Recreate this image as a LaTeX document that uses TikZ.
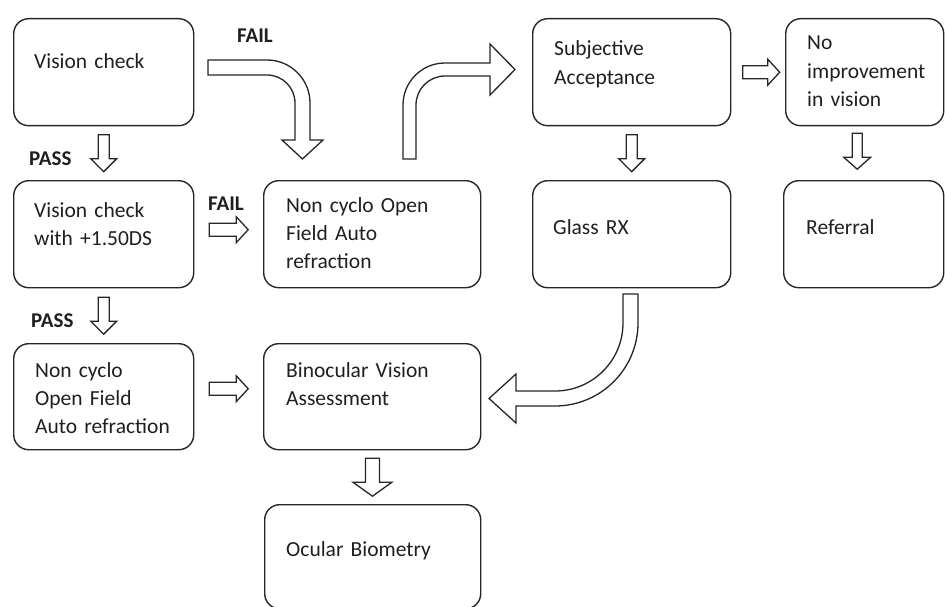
\documentclass[tikz,border=0pt]{standalone}
\usepackage{fontspec}
\setmainfont{Carlito}
\usetikzlibrary{calc}
\tikzset{
  box/.style={draw=black!85, line width=1.4pt, rounded corners=15pt, anchor=north west, inner sep=0pt},
  txt/.style={anchor=base west, inner sep=0pt, align=left, text width=190pt, text=black!88, font=\fontsize{21.5}{28.3}\selectfont},
  lbl/.style={anchor=base west, inner sep=0pt, text=black!88, font=\fontsize{21}{26}\selectfont\bfseries},
  barrow/.style={draw=black!85, line width=1.3pt, fill=white, line join=miter},
}
\newcommand\blockarrow[6]{\draw[barrow, shift={#1}, rotate=#2] ({-#3/2},{-#4/2}) -- ({#3/2-#6},{-#4/2}) -- ({#3/2-#6},{-#5/2}) -- ({#3/2},0) -- ({#3/2-#6},{#5/2}) -- ({#3/2-#6},{#4/2}) -- ({-#3/2},{#4/2}) -- cycle;}
\begin{document}
\begin{tikzpicture}[x=1pt,y=1pt]
\useasboundingbox (0,0) rectangle (945,-607);
% boxes
\node[box, minimum width=180pt, minimum height=107pt] (b1) at (13,-18) {};
\node[box, minimum width=180pt, minimum height=107pt] (b2) at (13,-180) {};
\node[box, minimum width=180pt, minimum height=106pt] (b3) at (13,-343) {};
\node[box, minimum width=217pt, minimum height=107pt] (b4) at (263,-180) {};
\node[box, minimum width=217pt, minimum height=106pt] (b5) at (263,-343) {};
\node[box, minimum width=216pt, minimum height=104pt] (b6) at (264,-504) {};
\node[box, minimum width=198pt, minimum height=107pt] (b7) at (532,-18) {};
\node[box, minimum width=198pt, minimum height=107pt] (b8) at (532,-180) {};
\node[box, minimum width=158pt, minimum height=107pt] (b9) at (785,-18) {};
\node[box, minimum width=160pt, minimum height=107pt] (b10) at (783,-180) {};
% texts
\node[txt] (t1) at (34,-69) {Vision check};
\node[txt] (t2) at (34,-217) {Vision check\\with +1.50DS};
\node[txt] (t3) at (35,-377) {Non cyclo\\Open Field\\Auto refraction};
\node[txt] (t4) at (286,-212) {Non cyclo Open\\Field Auto\\refraction};
\node[txt] (t5) at (286,-377) {Binocular Vision\\Assessment};
\node[txt] (t6) at (286,-556) {Ocular Biometry};
\node[txt] (t7) at (554,-56) {Subjective\\Acceptance};
\node[txt] (t8) at (553,-234) {Glass RX};
\node[txt] (t9) at (807,-50) {No\\improvement\\in vision};
\node[txt] (t10) at (806,-234) {Referral};
% labels
\node[lbl] (f1) at (237,-43) {FAIL};
\node[lbl] (f2) at (208,-210) {FAIL};
\node[lbl] (p1) at (29,-165) {PASS};
\node[lbl] (p2) at (31,-327) {PASS};
% straight block arrows
\blockarrow{($(b1.south)!0.5!(b2.north)$)}{-90}{37}{11}{26}{13}
\blockarrow{($(b2.east)!0.5!(b4.west)+(0,4.5)$)}{0}{39}{13}{26}{12}
\blockarrow{($(b2.south)!0.5!(b3.north)$)}{-90}{37}{11}{26}{13}
\blockarrow{($(b3.east)!0.5!(b5.west)+(0,8)$)}{0}{39}{13}{26}{12}
\blockarrow{($(b7.east)!0.5!(b9.west)+(3,0)$)}{0}{37}{13}{26}{12}
\blockarrow{($(b7.south)!0.5!(b8.north)$)}{-90}{37}{11}{26}{13}
\blockarrow{($(b9.south)!0.5!(b10.north)+(-7,2)$)}{-90}{36}{10}{27}{12}
\blockarrow{($(b5.south)!0.5!(b6.north)$)}{-90}{38}{14}{39}{14}
% curved block arrows
\draw[barrow] (208,-60) -- (267,-60) arc[start angle=90, end angle=0, radius=43] -- (310,-140) -- (323,-140) -- (302.5,-159) -- (282,-140) -- (295,-140) -- (295,-103) arc[start angle=0, end angle=90, radius=28] -- (208,-75) -- cycle;
\draw[barrow] (403,-159) -- (403,-105) arc[start angle=180, end angle=90, radius=42] -- (490,-63) -- (490,-44) -- (515,-69.5) -- (490,-95) -- (490,-76) -- (445,-76) arc[start angle=90, end angle=180, radius=29] -- (416,-159) -- cycle;
\draw[barrow] (638,-294) -- (638,-323) arc[start angle=0, end angle=-90, radius=83] -- (516,-406) -- (516,-423) -- (489,-398.5) -- (516,-374) -- (516,-391) -- (555,-391) arc[start angle=-90, end angle=0, radius=68] -- (623,-323) -- (623,-294) -- cycle;
\end{tikzpicture}
\end{document}
